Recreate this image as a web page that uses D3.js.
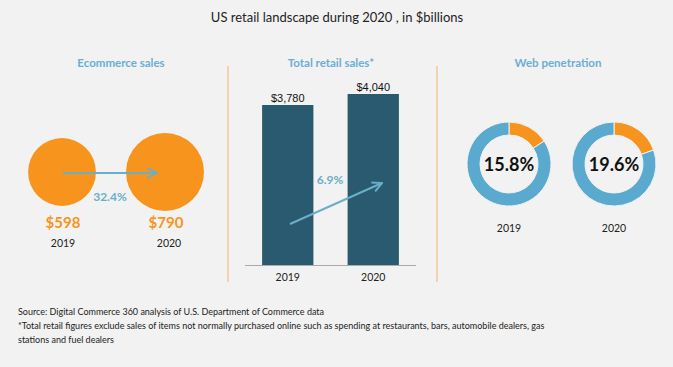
<!DOCTYPE html>
<html>
<head>
<meta charset="utf-8">
<script src="https://cdn.jsdelivr.net/npm/d3@7"></script>
<style>
  body { margin: 0; background: #f2f2f2; }
  svg { display: block; font-family: Lato, sans-serif; }
</style>
</head>
<body>
<svg id="chart"></svg>
<script>
const years = ["2019", "2020"]
const ecommerce = [598, 790]
const ecomGrowth = "32.4%"
const retail = [3780, 4040]
const retailGrowth = "6.9%"
const penetration = [15.8, 19.6]

const width = 673,
    height = 367

const orange = "#f7941d",
    lightBlue = "#5aaad0",
    darkBlue = "#2a5a70",
    arrowBlue = "#6aaec8"

let svg = d3.select("#chart")
    .attr("width", width)
    .attr("height", height)

svg.append("rect").attr("width", width).attr("height", height).attr("fill", "#f2f2f2")

svg.append("defs").append("marker")
    .attr("id", "arrow")
    .attr("viewBox", "0 0 10 10")
    .attr("refX", 9).attr("refY", 5)
    .attr("markerWidth", 6).attr("markerHeight", 6)
    .attr("orient", "auto")
    .append("path")
    .attr("d", "M1,1 L9,5 L1,9")
    .attr("fill", "none")
    .attr("stroke", arrowBlue)
    .attr("stroke-width", 1.6)

// title
svg.append("text")
    .attr("x", 337).attr("y", 22)
    .attr("text-anchor", "middle")
    .attr("font-size", 13)
    .attr("fill", "#222")
    .text("US retail landscape during 2020 , in $billions")

// section headers
const headers = [["Ecommerce sales", 121], ["Total retail sales*", 331], ["Web penetration", 558]]
svg.selectAll(".hdr")
    .data(headers)
    .join("text")
    .attr("class", "hdr")
    .attr("x", d => d[1]).attr("y", 67)
    .attr("text-anchor", "middle")
    .attr("font-size", 11.5)
    .attr("font-weight", "bold")
    .attr("fill", "#6aaed6")
    .text(d => d[0])

// dividers
svg.selectAll(".div")
    .data([228, 437])
    .join("line")
    .attr("x1", d => d).attr("x2", d => d)
    .attr("y1", 66).attr("y2", 282)
    .attr("stroke", "#f5b26b")
    .attr("stroke-width", 1)

// ---- Ecommerce bubbles
const xE = d3.scalePoint().domain(years).range([62, 165])
const rE = d3.scaleSqrt().domain([0, d3.max(ecommerce)]).range([0, 39])
const cy = 172

svg.selectAll(".bubble")
    .data(ecommerce)
    .join("circle")
    .attr("cx", (d, i) => xE(years[i]))
    .attr("cy", cy)
    .attr("r", d => rE(d))
    .attr("fill", orange)

svg.append("line")
    .attr("x1", xE(years[0]) + 1).attr("x2", xE(years[1]) - 8)
    .attr("y1", cy + 1).attr("y2", cy + 1)
    .attr("stroke", arrowBlue)
    .attr("stroke-width", 2)
    .attr("marker-end", "url(#arrow)")

svg.append("text")
    .attr("x", 110).attr("y", 201)
    .attr("text-anchor", "middle")
    .attr("font-size", 12)
    .attr("font-weight", "bold")
    .attr("fill", arrowBlue)
    .text(ecomGrowth)

svg.selectAll(".ecval")
    .data(ecommerce)
    .join("text")
    .attr("x", (d, i) => xE(years[i]) + 1)
    .attr("y", 228)
    .attr("text-anchor", "middle")
    .attr("font-size", 15)
    .attr("font-weight", "bold")
    .attr("fill", orange)
    .text(d => "$" + d)

svg.selectAll(".ecyr")
    .data(years)
    .join("text")
    .attr("x", (d, i) => xE(d) + (i ? 4 : 1))
    .attr("y", 247)
    .attr("text-anchor", "middle")
    .attr("font-size", 10.5)
    .attr("fill", "#222")
    .text(d => d)

// ---- Total retail bars
const xB = d3.scaleBand().domain(years).range([245, 416]).paddingInner(0.4).paddingOuter(0.2)
const yB = d3.scaleLinear().domain([0, 4040]).range([265, 94])

svg.selectAll(".bar")
    .data(retail)
    .join("rect")
    .attr("x", (d, i) => xB(years[i]))
    .attr("width", xB.bandwidth())
    .attr("y", d => yB(d))
    .attr("height", d => yB(0) - yB(d))
    .attr("fill", darkBlue)

svg.append("line")
    .attr("x1", 245).attr("x2", 416)
    .attr("y1", 265.5).attr("y2", 265.5)
    .attr("stroke", "#aaa")
    .attr("stroke-width", 1.2)

svg.selectAll(".barval")
    .data(retail)
    .join("text")
    .attr("x", (d, i) => xB(years[i]) + xB.bandwidth() / 2)
    .attr("y", d => yB(d) - 3)
    .attr("text-anchor", "middle")
    .attr("font-family", "Liberation Sans, Arial, sans-serif")
    .attr("font-size", 11)
    .attr("fill", "#111")
    .text(d => "$" + d3.format(",")(d))

svg.selectAll(".baryr")
    .data(years)
    .join("text")
    .attr("x", d => xB(d) + xB.bandwidth() / 2)
    .attr("y", 281)
    .attr("text-anchor", "middle")
    .attr("font-size", 10.5)
    .attr("fill", "#222")
    .text(d => d)

svg.append("line")
    .attr("x1", 290).attr("y1", 224)
    .attr("x2", 382).attr("y2", 183)
    .attr("stroke", arrowBlue)
    .attr("stroke-width", 2)
    .attr("marker-end", "url(#arrow)")

svg.append("text")
    .attr("x", 330).attr("y", 184)
    .attr("text-anchor", "middle")
    .attr("font-size", 12)
    .attr("font-weight", "bold")
    .attr("fill", arrowBlue)
    .text(retailGrowth)

// ---- Web penetration donuts
const xD = d3.scalePoint().domain(years).range([509, 614])
const pie = d3.pie().sort(null)
const arc = d3.arc().innerRadius(29).outerRadius(42)

penetration.forEach((p, i) => {
    let g = svg.append("g")
        .attr("transform", "translate(" + xD(years[i]) + ",164)")

    g.selectAll("path")
        .data(pie([p, 100 - p]))
        .join("path")
        .attr("d", arc)
        .attr("fill", (d, j) => j === 0 ? orange : lightBlue)
        .attr("stroke", "#f2f2f2")
        .attr("stroke-width", 1)

    g.append("text")
        .attr("y", 6.5)
        .attr("text-anchor", "middle")
        .attr("font-size", 18)
        .attr("font-weight", "bold")
        .attr("fill", "#111")
        .text(p.toFixed(1) + "%")

    g.append("text")
        .attr("y", 68)
        .attr("text-anchor", "middle")
        .attr("font-size", 10.5)
        .attr("fill", "#222")
        .text(years[i])
})

// footer
const notes = [
    "Source: Digital Commerce 360 analysis of U.S. Department of Commerce data",
    "*Total retail figures exclude sales of items not normally purchased online such as spending at restaurants, bars, automobile dealers, gas",
    "stations and fuel dealers"
]
svg.selectAll(".note")
    .data(notes)
    .join("text")
    .attr("x", 18)
    .attr("y", (d, i) => 315 + i * 14)
    .attr("font-size", 9)
    .attr("fill", "#222")
    .text(d => d)
</script>
</body>
</html>
